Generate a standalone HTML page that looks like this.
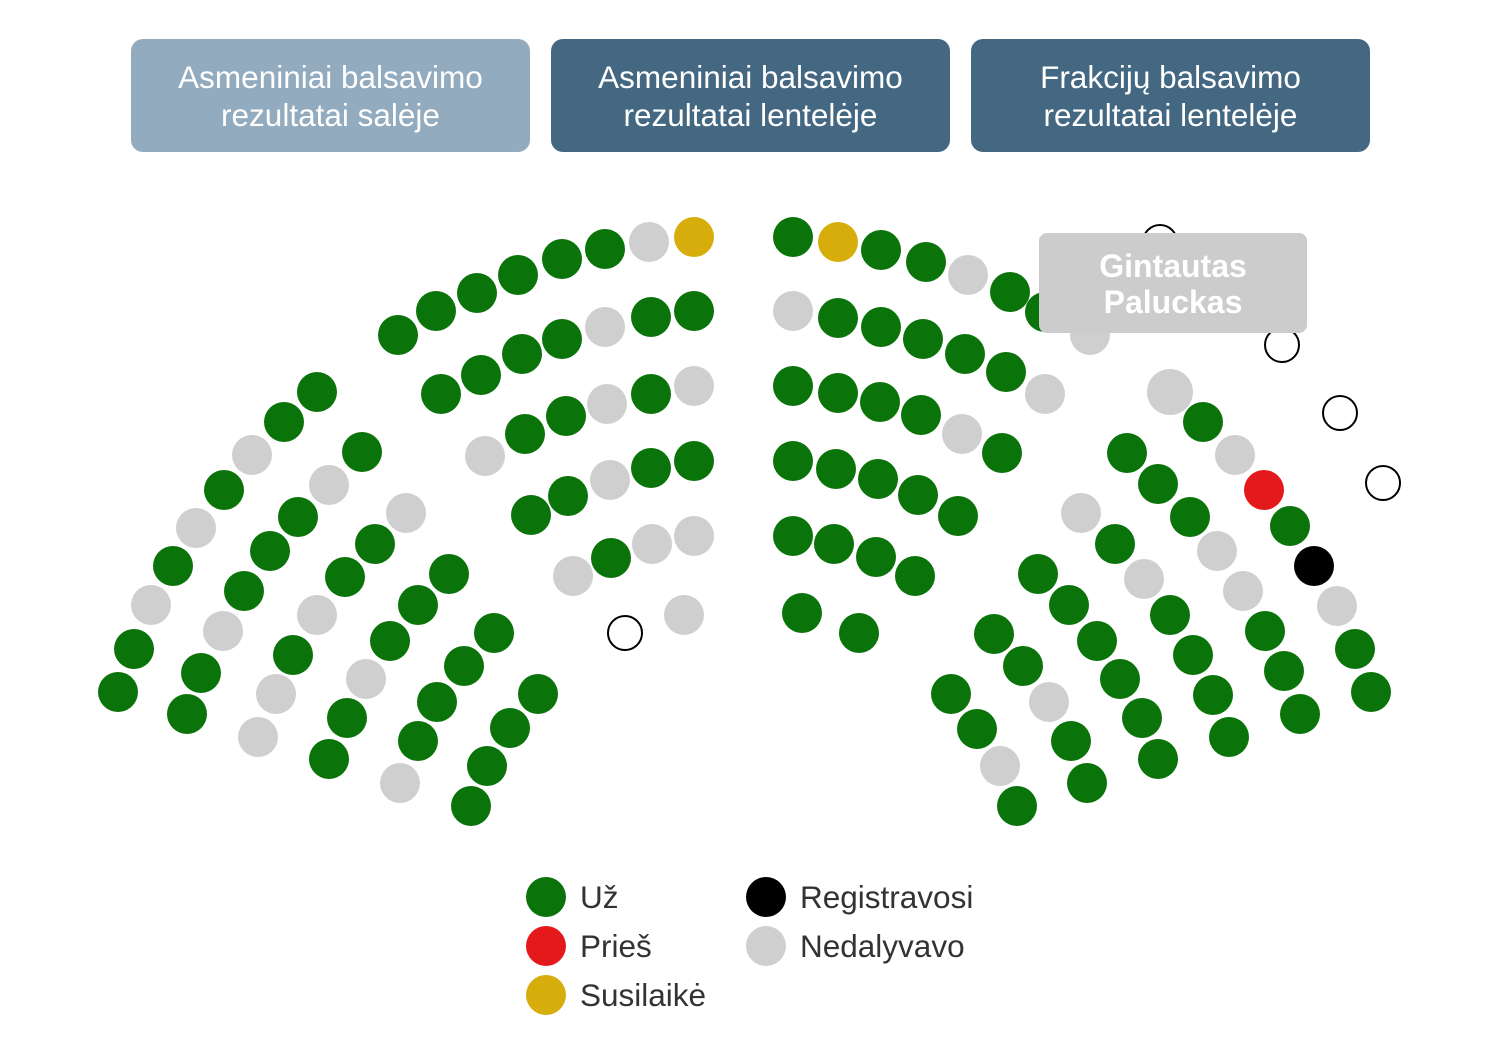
<!DOCTYPE html>
<html><head><meta charset="utf-8"><style>
body{margin:0;background:#fff;width:1506px;height:1044px;overflow:hidden;font-family:"Liberation Sans",sans-serif}
.b{position:absolute;top:39px;width:399px;height:113px;border-radius:12px;color:#fff;font-size:31.5px;line-height:38px;text-align:center;display:flex;align-items:center;justify-content:center}
</style></head><body>
<div class="b" style="left:131px;background:#92abbf">Asmeniniai balsavimo<br>rezultatai salėje</div>
<div class="b" style="left:551px;background:#456882">Asmeniniai balsavimo<br>rezultatai lentelėje</div>
<div class="b" style="left:971px;background:#456882">Frakcijų balsavimo<br>rezultatai lentelėje</div>
<svg width="1506" height="1044" style="position:absolute;left:0;top:0" id="s"></svg>
<script>
var G="#0a730a",Y="#d6ad0a",R="#e3191b",K="#000",N="#cfcfcf",W="w";
var d=[
[118,692,G],[134,649,G],[151,605,N],[173,566,G],[196,528,N],[224,490,G],[252,455,N],[284,422,G],[317,392,G],
[398,335,G],[436,311,G],[477,293,G],[518,275,G],[562,259,G],[605,249,G],[649,242,N],[694,237,Y],
[187,714,G],[201,673,G],[223,631,N],[244,591,G],[270,551,G],[298,517,G],[329,485,N],[362,452,G],
[441,394,G],[481,375,G],[522,354,G],[562,339,G],[605,327,N],[651,317,G],[694,311,G],
[258,737,N],[276,694,N],[293,655,G],[317,615,N],[345,577,G],[375,544,G],[406,513,N],
[485,456,N],[525,434,G],[566,416,G],[607,404,N],[651,394,G],[694,386,N],
[329,759,G],[347,718,G],[366,679,N],[390,641,G],[418,605,G],[449,574,G],
[531,515,G],[568,496,G],[610,480,N],[651,468,G],[694,461,G],
[400,783,N],[418,741,G],[437,702,G],[464,666,G],[494,633,G],
[573,576,N],[611,558,G],[652,544,N],[694,536,N],
[471,806,G],[487,766,G],[510,728,G],[538,694,G],
[625,633,W],[684,615,N],
[793,237,G],[838,242,Y],[881,250,G],[926,262,G],[968,275,N],[1010,292,G],[1045,312,G],[1160,242,W],
[793,311,N],[838,318,G],[881,327,G],[923,339,G],[965,354,G],[1006,372,G],[1045,394,N],[1090,335,N],
[793,386,G],[838,393,G],[880,402,G],[921,415,G],[962,434,N],[1002,453,G],
[793,461,G],[836,469,G],[878,479,G],[918,495,G],[958,516,G],
[793,536,G],[834,544,G],[876,557,G],[915,576,G],
[802,613,G],[859,633,G],
[1170,392,N,23],[1203,422,G],[1235,455,N],[1264,490,R],[1290,526,G],[1314,566,K],[1337,606,N],[1355,649,G],[1371,692,G],
[1282,345,W],[1340,413,W],[1383,483,W],
[1127,453,G],[1158,484,G],[1190,517,G],[1217,551,N],[1243,591,N],[1265,631,G],[1284,671,G],[1300,714,G],
[1081,513,N],[1115,544,G],[1144,579,N],[1170,615,G],[1193,655,G],[1213,695,G],[1229,737,G],
[1038,574,G],[1069,605,G],[1097,641,G],[1120,679,G],[1142,718,G],[1158,759,G],
[994,634,G],[1023,666,G],[1049,702,N],[1071,741,G],[1087,783,G],
[951,694,G],[977,729,G],[1000,766,N],[1017,806,G],
[546,897,G],[546,946,R],[546,995,Y],[766,897,K],[766,946,N]];
var h="";
d.forEach(function(c){
 if(c[2]==W)h+='<circle cx="'+c[0]+'" cy="'+c[1]+'" r="17" fill="#fff" stroke="#000" stroke-width="2"/>';
 else h+='<circle cx="'+c[0]+'" cy="'+c[1]+'" r="'+(c[3]||20)+'" fill="'+c[2]+'"/>';
});
h+='<rect x="1039" y="233" width="268" height="100" rx="8" fill="#cccccc"/>';
h+='<text x="1173" y="277" font-size="32" font-weight="bold" fill="#fff" text-anchor="middle" font-family="Liberation Sans,sans-serif">Gintautas</text>';
h+='<text x="1173" y="313" font-size="32" font-weight="bold" fill="#fff" text-anchor="middle" font-family="Liberation Sans,sans-serif">Paluckas</text>';
var L=[[580,908,"Už"],[580,957,"Prieš"],[580,1006,"Susilaikė"],[800,908,"Registravosi"],[800,957,"Nedalyvavo"]];
L.forEach(function(t){h+='<text x="'+t[0]+'" y="'+t[1]+'" font-size="31.5" fill="#333" font-family="Liberation Sans,sans-serif">'+t[2]+'</text>';});
document.getElementById("s").innerHTML=h;
</script>
</body></html>
